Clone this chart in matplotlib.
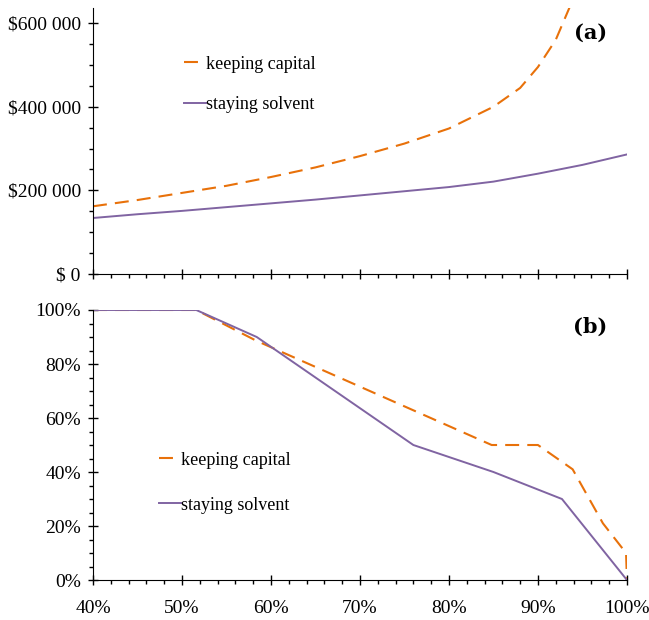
import matplotlib
matplotlib.use("Agg")
import matplotlib.pyplot as plt
from matplotlib.ticker import MultipleLocator, FuncFormatter

plt.rcParams['font.family'] = ['Liberation Serif', 'DejaVu Serif']
plt.rcParams['font.size'] = 13

# panel (a): required amount vs. target probability
a_x_keep = [40, 45, 50, 55, 60, 65, 70, 75, 80, 85, 88, 90, 92, 93.6]
a_keep = [162000, 177000, 194000, 211000, 232000, 255000, 282000, 312000, 348000, 400000, 445000, 495000, 560000, 640000]
a_x_solv = [40, 45, 50, 55, 60, 65, 70, 75, 80, 85, 90, 95, 100]
a_solv = [134000, 143000, 151000, 160000, 169000, 178000, 188000, 198000, 208000, 221000, 240000, 261000, 286000]

# panel (b): probability
b_x_keep = [40, 51.6, 58.3, 84.8, 90, 93.9, 97.3, 99.9, 100]
b_keep = [100, 100, 88.7, 50, 50, 41, 21, 10, 0]
b_x_solv = [40, 51.6, 58.4, 76, 85, 92.7, 100]
b_solv = [100, 100, 90, 50, 40, 30, 0]

orange = '#e8710a'
purple = '#8064a2'
dash = (6.7, 3.9)

fig = plt.figure(figsize=(6.49, 6.2), dpi=100)
ax1 = fig.add_axes([0.1433, 0.558, 0.8227, 0.429])
ax2 = fig.add_axes([0.1433, 0.0645, 0.8227, 0.4355])

ax1.plot(a_x_keep, a_keep, color=orange, lw=1.5, dashes=dash, label='keeping capital')
ax1.plot(a_x_solv, a_solv, color=purple, lw=1.4, label='staying solvent')
ax2.plot(b_x_keep, b_keep, color=orange, lw=1.5, dashes=dash, label='keeping capital')
ax2.plot(b_x_solv, b_solv, color=purple, lw=1.4, label='staying solvent')

ax1.set_ylim(0, 636000)
ax2.set_ylim(0, 100)


def money(v, pos):
    if v == 0:
        return '\\$ 0'
    return '\\$' + f'{v:,.0f}'.replace(',', ' ')


for ax in (ax1, ax2):
    ax.set_xlim(40, 100)
    ax.spines['top'].set_visible(False)
    ax.spines['right'].set_visible(False)
    ax.xaxis.set_major_locator(MultipleLocator(10))
    ax.xaxis.set_minor_locator(MultipleLocator(2))
    ax.tick_params(which='major', direction='inout', length=7.5, width=1)
    ax.tick_params(which='minor', direction='out', length=3, width=1)
    ax.tick_params(labelsize=14)
    ax.tick_params(axis='y', pad=5)
    ax.tick_params(axis='x', pad=11)

ax1.legend(frameon=False, fontsize=13, handlelength=1.22, handletextpad=0.0,
           labelspacing=1.3, loc='upper left', bbox_to_anchor=(0.14, 0.882))
ax2.legend(frameon=False, fontsize=13, handlelength=1.22, handletextpad=0.0,
           labelspacing=1.55, loc='upper left', bbox_to_anchor=(0.094, 0.535))

ax1.yaxis.set_major_locator(MultipleLocator(200000))
ax1.yaxis.set_minor_locator(MultipleLocator(50000))
ax1.yaxis.set_major_formatter(FuncFormatter(money))
ax1.tick_params(axis='x', labelbottom=False)

ax2.yaxis.set_major_locator(MultipleLocator(20))
ax2.yaxis.set_minor_locator(MultipleLocator(5))
ax2.yaxis.set_major_formatter(FuncFormatter(lambda v, p: f'{v:.0f}%'))
ax2.xaxis.set_major_formatter(FuncFormatter(lambda v, p: f'{v:.0f}%'))

ax1.text(0.963, 0.906, '(a)', transform=ax1.transAxes, ha='right', va='center',
         fontsize=15, fontweight='bold', family='DejaVu Serif')
ax2.text(0.963, 0.937, '(b)', transform=ax2.transAxes, ha='right', va='center',
         fontsize=15, fontweight='bold', family='DejaVu Serif')

fig.savefig('out.png', dpi=100)
